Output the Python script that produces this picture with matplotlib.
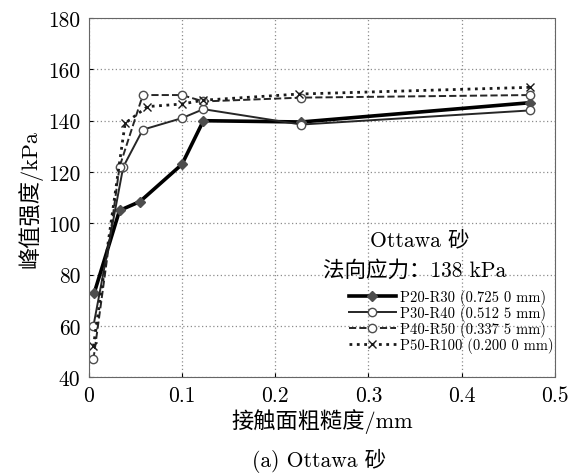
import matplotlib
matplotlib.use("Agg")
import matplotlib.pyplot as plt

plt.rcParams['font.family'] = ['cmr10', 'Noto Sans CJK SC', 'DejaVu Serif']
plt.rcParams['axes.unicode_minus'] = False

# data
x_p20 = [0.006, 0.033, 0.055, 0.100, 0.123, 0.228, 0.473]
y_p20 = [73, 105, 108.5, 123, 140, 139.5, 147]
x_p30 = [0.005, 0.037, 0.058, 0.100, 0.123, 0.228, 0.473]
y_p30 = [60, 122, 136.5, 141, 144.5, 138.5, 144]
x_p40 = [0.005, 0.033, 0.058, 0.100, 0.123, 0.228, 0.473]
y_p40 = [47, 122, 150, 150, 147.5, 149, 150]
x_p50 = [0.005, 0.039, 0.063, 0.100, 0.123, 0.226, 0.473]
y_p50 = [52, 139, 145.5, 146.5, 148, 150.4, 153]
labels = ["P20-R30 (0.725 0 mm)", "P30-R40 (0.512 5 mm)",
          "P40-R50 (0.337 5 mm)", "P50-R100 (0.200 0 mm)"]

fig = plt.figure(figsize=(5.69, 4.77), dpi=100)
ax = fig.add_axes([0.156, 0.207, 0.819, 0.753])

ax.plot(x_p20, y_p20, "-", color="black", lw=2.6, marker="D", ms=5,
        mfc="0.3", mec="0.3", label=labels[0])
ax.plot(x_p30, y_p30, "-", color="0.15", lw=1.4, marker="o", ms=6,
        mfc="white", mec="0.3", label=labels[1])
ax.plot(x_p40, y_p40, "--", color="0.15", lw=1.4, marker="o", ms=6,
        mfc="white", mec="0.3", label=labels[2])
ax.plot(x_p50, y_p50, ":", color="0.1", lw=2.0, marker="x", ms=6,
        mec="0.1", label=labels[3])

ax.set_xlim(0, 0.5)
ax.set_ylim(40, 180)
ax.set_xticks([0, 0.1, 0.2, 0.3, 0.4, 0.5])
ax.set_xticklabels(["0", "0.1", "0.2", "0.3", "0.4", "0.5"])
ax.set_yticks(range(40, 181, 20))
ax.tick_params(labelsize=15.5, direction="in", length=3, pad=6)
ax.grid(True, linestyle=(0, (1, 2)), color="0.55", lw=0.9)
for s in ax.spines.values():
    s.set_color("0.4")
    s.set_linestyle((0, (1, 1)))

ax.set_xlabel("接触面粗糙度/mm", fontsize=16, labelpad=2)
ax.set_ylabel("峰值强度/kPa", fontsize=16, labelpad=4)

ax.text(0.71, 0.385, "Ottawa 砂", transform=ax.transAxes, ha="center",
        va="center", fontsize=15.5)
ax.text(0.70, 0.30, "法向应力：138 kPa", transform=ax.transAxes, ha="center",
        va="center", fontsize=15.5)

ax.legend(loc="lower right", bbox_to_anchor=(1.01, 0.05), frameon=False,
          fontsize=10.5, handlelength=3.2, labelspacing=0.0,
          borderaxespad=0.0, handletextpad=0.3)

fig.text(0.56, 0.022, "(a) Ottawa 砂", ha="center", fontsize=15.5)

fig.savefig("out.png", dpi=100)
